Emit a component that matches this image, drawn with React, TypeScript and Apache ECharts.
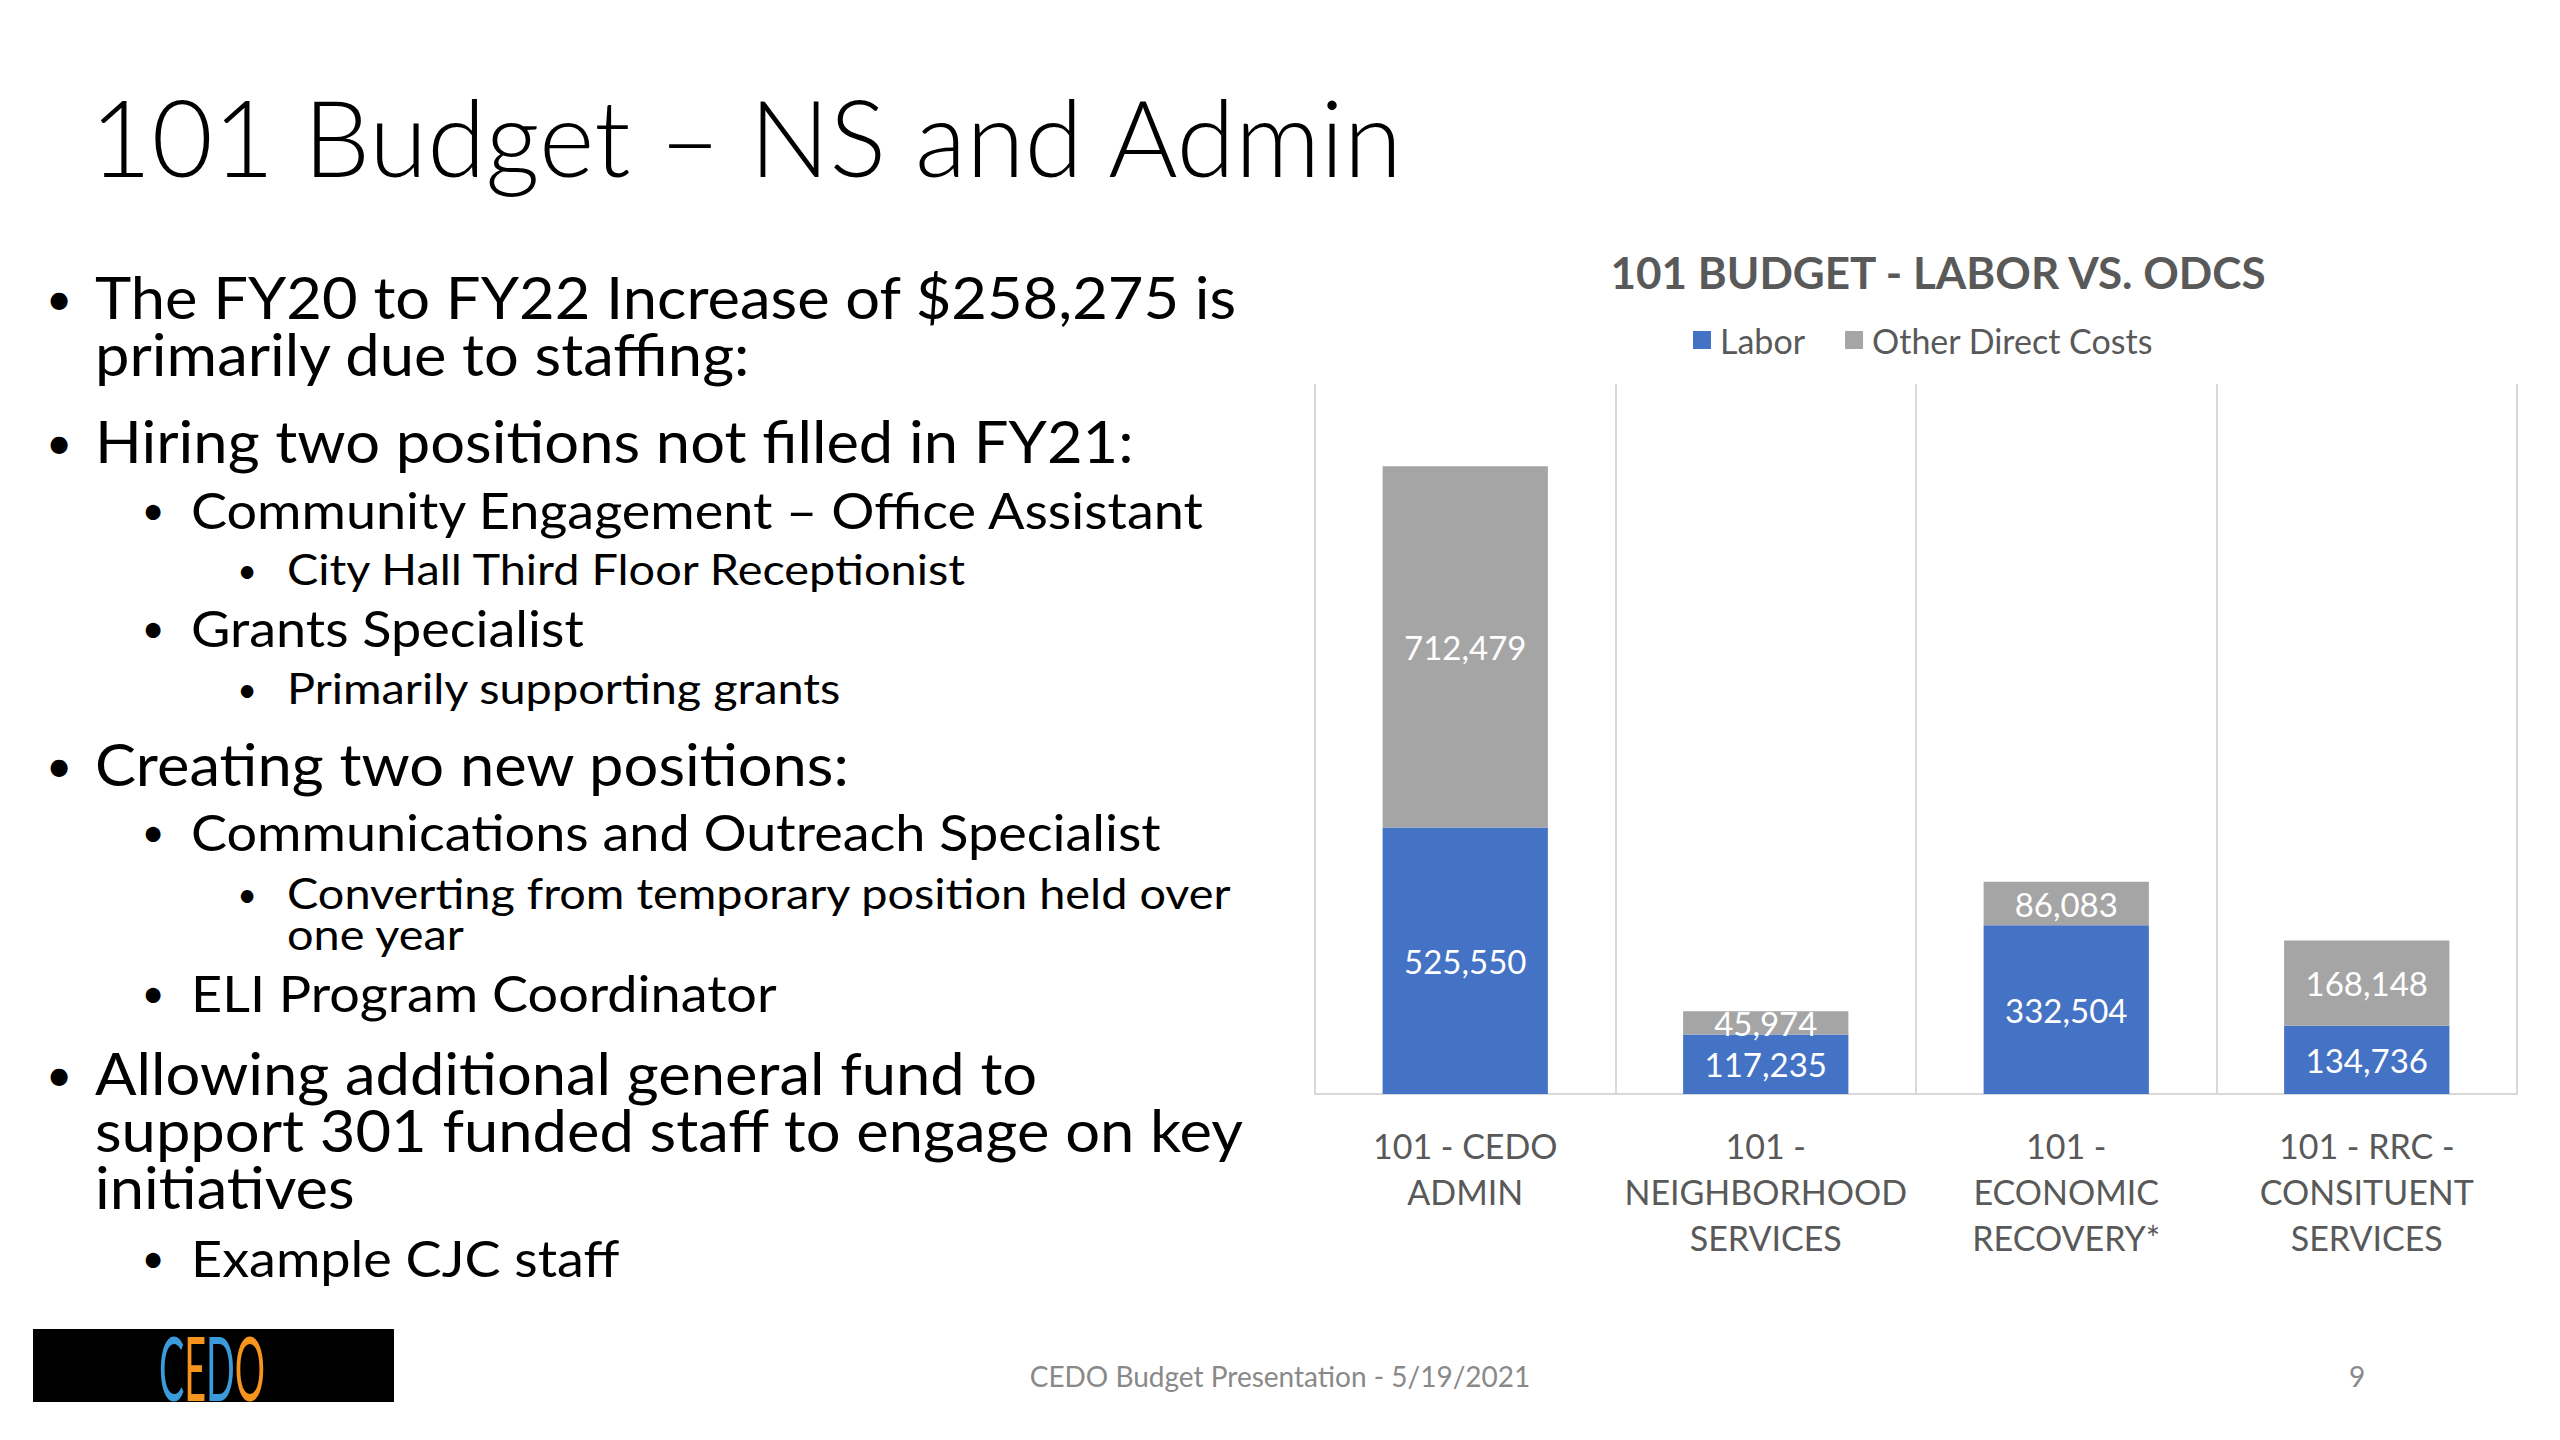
import React, { useEffect, useRef } from "react";
import * as echarts from "echarts";

const slideTitle = "101 Budget – NS and Admin";
const chartTitle = "101 BUDGET - LABOR VS. ODCS";
const seriesNames = ["Labor", "Other Direct Costs"];
const categories = [
  "101 - CEDO\nADMIN",
  "101 -\nNEIGHBORHOOD\nSERVICES",
  "101 -\nECONOMIC\nRECOVERY*",
  "101 - RRC -\nCONSITUENT\nSERVICES",
];
const labor = [525550, 117235, 332504, 134736];
const otherDirect = [712479, 45974, 86083, 168148];
const footerText = "CEDO Budget Presentation - 5/19/2021";
const pageNumber = "9";

// bullet paragraphs: level, lines
const bullets: { level: number; lines: string[] }[] = [
  { level: 1, lines: ["The FY20 to FY22 Increase of $258,275 is", "primarily due to staffing:"] },
  { level: 1, lines: ["Hiring two positions not filled in FY21:"] },
  { level: 2, lines: ["Community Engagement – Office Assistant"] },
  { level: 3, lines: ["City Hall Third Floor Receptionist"] },
  { level: 2, lines: ["Grants Specialist"] },
  { level: 3, lines: ["Primarily supporting grants"] },
  { level: 1, lines: ["Creating two new positions:"] },
  { level: 2, lines: ["Communications and Outreach Specialist"] },
  { level: 3, lines: ["Converting from temporary position held over", "one year"] },
  { level: 2, lines: ["ELI Program Coordinator"] },
  { level: 1, lines: ["Allowing additional general fund to", "support 301 funded staff to engage on key", "initiatives"] },
  { level: 2, lines: ["Example CJC staff"] },
];
// vertical centre of first line of each paragraph (layout)
const bulletY = [297, 441, 510, 569, 628, 688, 764, 832, 893, 993, 1073, 1258];

const LEVEL_STYLE: Record<number, { bx: number; tx: number; size: number; sx: number; lh: number }> = {
  1: { bx: 59, tx: 95, size: 58, sx: 1.06, lh: 57 },
  2: { bx: 153, tx: 191, size: 50, sx: 1.08, lh: 50 },
  3: { bx: 247, tx: 287, size: 43, sx: 1.09, lh: 41 },
};

function txt(x: number, y: number, text: string, size: number, extra: any = {}, styleExtra: any = {}) {
  return {
    type: "text",
    x,
    y,
    ...extra,
    style: {
      text,
      fontFamily: "Lato",
      fontSize: size,
      lineHeight: size,
      fill: "#000",
      align: "left",
      verticalAlign: "middle",
      textAlign: "left",
      textVerticalAlign: "middle",
      ...styleExtra,
    },
  };
}

function buildGraphics() {
  const els: any[] = [];
  els.push(txt(90, 136, slideTitle, 106, {}, { fontWeight: 300 }));
  bullets.forEach((b, i) => {
    const st = LEVEL_STYLE[b.level];
    const y0 = bulletY[i];
    els.push(
      txt(st.bx, y0, "•", Math.round(st.size * 0.8), {}, { align: "center", textAlign: "center" })
    );
    b.lines.forEach((ln, j) => {
      els.push(txt(st.tx, y0 + j * st.lh, ln, st.size, { scaleX: st.sx }));
    });
  });
  // logo
  els.push({
    type: "rect",
    shape: { x: 33, y: 1329, width: 361, height: 73 },
    style: { fill: "#000" },
  });
  els.push({
    type: "text",
    x: 212,
    y: 1366,
    scaleX: 0.42,
    style: {
      text: "{b|C}{o|E}{b|D}{o|O}",
      fontFamily: "Lato",
      fontSize: 90,
      align: "center",
      verticalAlign: "middle",
      textAlign: "center",
      textVerticalAlign: "middle",
      rich: {
        b: { fill: "#3b9ad9", color: "#3b9ad9", fontFamily: "Lato", fontSize: 90 },
        o: { fill: "#f7941d", color: "#f7941d", fontFamily: "Lato", fontSize: 90 },
      },
    },
  });
  els.push(txt(1280, 1376, footerText, 28, {}, { fill: "#898989", align: "center", textAlign: "center" }));
  els.push(txt(2357, 1376, pageNumber, 28, {}, { fill: "#898989", align: "center", textAlign: "center" }));
  return els;
}

const fmt = (v: number) => v.toLocaleString("en-US");

export default function App() {
  const ref = useRef<HTMLDivElement>(null);
  useEffect(() => {
    if (!ref.current) return;
    const chart = echarts.init(ref.current, null, { renderer: "svg" });
    chart.setOption({
      animation: false,
      backgroundColor: "#ffffff",
      title: {
        text: chartTitle,
        left: 1933,
        top: 245,
        textAlign: "center",
        textStyle: { fontFamily: "Lato", fontWeight: "bold", fontSize: 44, color: "#595959" },
      },
      legend: {
        left: 1688,
        top: 318,
        icon: "rect",
        itemWidth: 18,
        itemHeight: 18,
        itemGap: 40,
        textStyle: { fontFamily: "Lato", fontSize: 34, color: "#595959", padding: [0, 0, 0, 4] },
        data: seriesNames,
      },
      grid: { left: 1315, right: 43, top: 384, bottom: 346, containLabel: false },
      xAxis: {
        type: "category",
        data: categories,
        boundaryGap: true,
        axisLine: { show: true, lineStyle: { color: "#d9d9d9", width: 2 } },
        axisTick: { show: false },
        splitLine: { show: true, lineStyle: { color: "#d9d9d9", width: 2 } },
        axisLabel: {
          interval: 0,
          margin: 28,
          fontFamily: "Lato",
          fontSize: 34,
          lineHeight: 46,
          color: "#595959",
        },
      },
      yAxis: {
        type: "value",
        min: 0,
        max: 1400000,
        interval: 200000,
        show: false,
        splitLine: { show: false },
      },
      series: [
        {
          name: seriesNames[0],
          type: "bar",
          stack: "total",
          barWidth: "55%",
          data: labor,
          itemStyle: { color: "#4472c4" },
          label: {
            show: true,
            position: "inside",
            color: "#ffffff",
            fontFamily: "Lato",
            fontSize: 33,
            formatter: (p: any) => fmt(p.value),
          },
        },
        {
          name: seriesNames[1],
          type: "bar",
          stack: "total",
          barWidth: "55%",
          data: otherDirect,
          itemStyle: { color: "#a5a5a5" },
          label: {
            show: true,
            position: "inside",
            color: "#ffffff",
            fontFamily: "Lato",
            fontSize: 33,
            formatter: (p: any) => fmt(p.value),
          },
        },
      ],
      graphic: buildGraphics(),
    });
    return () => chart.dispose();
  }, []);
  return (
    <div
      ref={ref}
      style={{ position: "absolute", left: 0, top: 0, width: 2560, height: 1440, background: "#fff" }}
    />
  );
}
